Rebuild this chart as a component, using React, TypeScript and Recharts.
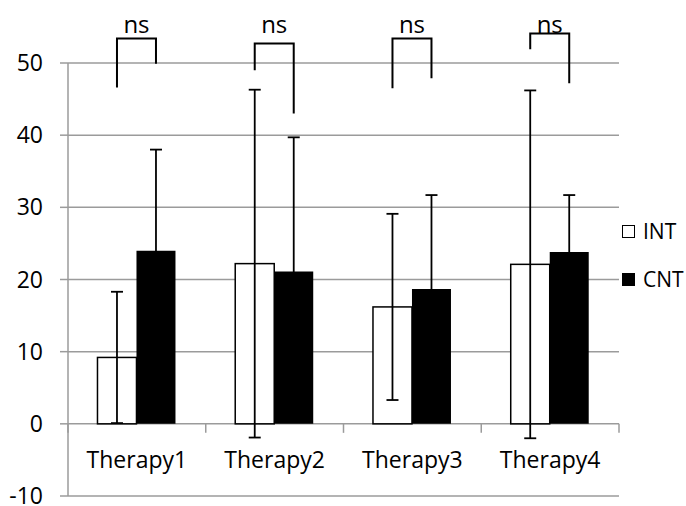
import React from 'react';
import {
  BarChart,
  Bar,
  XAxis,
  YAxis,
  CartesianGrid,
  ErrorBar,
  Legend,
  ReferenceLine,
} from 'recharts';

const categories = ['Therapy1', 'Therapy2', 'Therapy3', 'Therapy4'];
const seriesNames = ['INT', 'CNT'];
const intMeans = [9.2, 22.2, 16.2, 22.1];
const intErrors = [9.1, 24.1, 12.9, 24.1];
const cntMeans = [24.0, 21.1, 18.7, 23.8];
const cntErrors = [14.0, 18.6, 13.0, 7.9];
const yTicks = [-10, 0, 10, 20, 30, 40, 50];

// Significance brackets above each pair (data units)
const bracketTops = [53.4, 52.7, 53.4, 54.1];
const bracketIntEnds = [46.6, 49.0, 46.5, 51.9];
const bracketCntEnds = [49.9, 43.0, 47.9, 47.2];
const bracketLabels = ['ns', 'ns', 'ns', 'ns'];
const bracketLabelLevel = 54.2;

const FONT = '"Open Sans", sans-serif';
const GRID = '#9b9b9b';

const data = categories.map((name, i) => ({
  name,
  INT: intMeans[i],
  intErr: intErrors[i],
  CNT: cntMeans[i],
  cntErr: cntErrors[i],
  top: bracketTops[i],
  intEnd: bracketIntEnds[i],
  cntEnd: bracketCntEnds[i],
  label: bracketLabels[i],
}));

// INT bar: outlined rectangle plus the bracket spanning to the CNT bar next to it
const IntBarShape = (props: any) => {
  const { x, y, width, height, payload } = props;
  const base = y + height;
  const perUnit = height / payload.INT;
  const toY = (v: number) => base - v * perUnit;
  const leftX = x + width / 2;
  const rightX = x + width * 1.5;
  const topY = toY(payload.top);
  return (
    <g>
      <rect x={x} y={y} width={width} height={height} fill="#fff" stroke="#000" strokeWidth={1.5} />
      <path
        d={`M${leftX},${toY(payload.intEnd)} V${topY} H${rightX} V${toY(payload.cntEnd)}`}
        fill="none"
        stroke="#000"
        strokeWidth={2}
      />
      <text
        x={(leftX + rightX) / 2}
        y={toY(bracketLabelLevel)}
        textAnchor="middle"
        fontFamily={FONT}
        fontSize={24}
        fill="#000"
      >
        {payload.label}
      </text>
    </g>
  );
};

const CategoryTick = (props: any) => {
  const { x, y, payload } = props;
  return (
    <text x={x} y={y} dy={-28.5} textAnchor="middle" fontFamily={FONT} fontSize={23} fill="#000">
      {payload.value}
    </text>
  );
};

const renderLegend = (props: any) => {
  const items = [...(props.payload || [])].sort(
    (a: any, b: any) => seriesNames.indexOf(a.value) - seriesNames.indexOf(b.value)
  );
  return (
    <div style={{ display: 'flex', flexDirection: 'column' }}>
      {items.map((entry: any) => (
        <div
          key={entry.value}
          style={{ display: 'flex', alignItems: 'center', height: 24, marginBottom: 24 }}
        >
          <span
            style={{
              display: 'inline-block',
              width: 13,
              height: 13,
              boxSizing: 'border-box',
              border: '1.5px solid #000',
              background: entry.color,
            }}
          />
          <span
            style={{
              marginLeft: 8,
              fontFamily: FONT,
              fontSize: 21,
              lineHeight: '24px',
              color: '#000',
            }}
          >
            {entry.value}
          </span>
        </div>
      ))}
    </div>
  );
};

export default function App() {
  return (
    <div style={{ position: 'absolute', left: 0, top: 0, background: '#fff' }}>
      <BarChart
        width={686}
        height={506}
        data={data}
        margin={{ top: 63, right: 67, bottom: 0, left: 0 }}
        barCategoryGap="21.4%"
        barGap={0}
      >
        <CartesianGrid vertical={false} stroke={GRID} strokeWidth={1.5} />
        <XAxis
          dataKey="name"
          height={10}
          axisLine={false}
          tickLine={false}
          tickSize={0}
          tickMargin={0}
          interval={0}
          tick={<CategoryTick />}
        />
        <YAxis
          domain={[-10, 50]}
          ticks={yTicks}
          interval={0}
          width={68}
          tickSize={8}
          tickMargin={17}
          axisLine={{ stroke: GRID, strokeWidth: 1.5 }}
          tickLine={{ stroke: GRID, strokeWidth: 1.5 }}
          tick={{ fill: '#000', fontSize: 23, fontFamily: FONT }}
        />
        {categories.map((c) => (
          <ReferenceLine
            key={`tick-${c}`}
            segment={[
              { x: c, y: 0 },
              { x: c, y: -1.25 },
            ]}
            position="start"
            stroke={GRID}
            strokeWidth={1.5}
          />
        ))}
        <ReferenceLine
          segment={[
            { x: categories[categories.length - 1], y: 0 },
            { x: categories[categories.length - 1], y: -1.25 },
          ]}
          position="end"
          stroke={GRID}
          strokeWidth={1.5}
        />
        <Bar dataKey="INT" name="INT" fill="#fff" shape={<IntBarShape />} isAnimationActive={false}>
          <ErrorBar dataKey="intErr" width={6} stroke="#000" strokeWidth={1.8} />
        </Bar>
        <Bar dataKey="CNT" name="CNT" fill="#000" isAnimationActive={false}>
          <ErrorBar dataKey="cntErr" width={6} stroke="#000" strokeWidth={1.8} />
        </Bar>
        <Legend
          layout="vertical"
          align="center"
          verticalAlign="middle"
          wrapperStyle={{ left: 622, top: 219, width: 64 }}
          content={renderLegend}
        />
      </BarChart>
    </div>
  );
}
